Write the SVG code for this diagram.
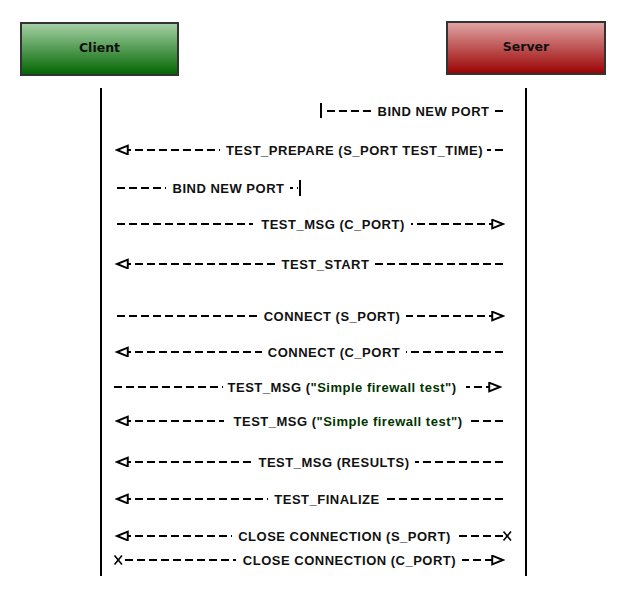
<svg xmlns="http://www.w3.org/2000/svg" width="628" height="602" viewBox="0 0 628 602">
  <style>
    .hdr { font-family: "DejaVu Sans", sans-serif; font-weight: bold; font-size: 12.5px; fill: #111; text-anchor: middle; }
    .lbl { font-family: "Liberation Sans", Arial, sans-serif; font-weight: bold; font-size: 13px; letter-spacing: 0.5px; fill: #111; text-anchor: middle; }
    .grn { fill: #003300; }
    .life { stroke: #000; stroke-width: 2; }
    .msg { stroke: #000; stroke-width: 2; stroke-dasharray: 8 4; fill: none; }
    .bg { fill: #fff; }
    .bar { stroke: #000; stroke-width: 2; }
    .xm { stroke: #000; stroke-width: 1.6; fill: none; }
  </style>
  <defs>
    <linearGradient id="gClient" x1="0" y1="0" x2="0" y2="1">
      <stop offset="0" stop-color="#a6d2a6"/>
      <stop offset="1" stop-color="#006400"/>
    </linearGradient>
    <linearGradient id="gServer" x1="0" y1="0" x2="0" y2="1">
      <stop offset="0" stop-color="#e2a6a6"/>
      <stop offset="1" stop-color="#990000"/>
    </linearGradient>
    <marker id="arr" markerUnits="userSpaceOnUse" markerWidth="14" markerHeight="12" viewBox="-1 -1 13 11" refX="10" refY="4" orient="auto">
      <path d="M0,0 L10,4 L0,8 Z" fill="#fff" stroke="#000" stroke-width="1.8" stroke-linejoin="miter"/>
    </marker>
  </defs>

  <rect width="628" height="602" fill="#fff"/>

  <g id="client">
    <rect x="21" y="23" width="157" height="52" fill="url(#gClient)" stroke="#333" stroke-width="2"/>
    <text class="hdr" x="99.5" y="52">Client</text>
    <line class="life" x1="101" y1="88" x2="101" y2="576"/>
  </g>

  <g id="server">
    <rect x="447" y="22" width="158" height="52" fill="url(#gServer)" stroke="#333" stroke-width="2"/>
    <text class="hdr" x="526" y="51">Server</text>
    <line class="life" x1="526" y1="88" x2="526" y2="576"/>
  </g>

  <g id="connectors">
    <g id="m1">
      <line class="bar" x1="321" y1="103" x2="321" y2="118"/>
      <line class="msg" x1="327" y1="111" x2="505" y2="111"/>
      <rect class="bg" x="372" y="104" width="122" height="14"/>
      <text class="lbl" x="433.5" y="115.5">BIND NEW PORT</text>
    </g>
    <g id="m2">
      <line class="msg" x1="503" y1="150" x2="117" y2="150" marker-end="url(#arr)"/>
      <rect class="bg" x="220" y="143" width="267" height="14"/>
      <text class="lbl" x="354.5" y="154.5">TEST_PREPARE (S_PORT TEST_TIME)</text>
    </g>
    <g id="m3">
      <line class="msg" x1="117" y1="188" x2="298" y2="188"/>
      <line class="bar" x1="300" y1="180" x2="300" y2="196"/>
      <rect class="bg" x="166" y="181" width="124" height="14"/>
      <text class="lbl" x="228.5" y="192.5">BIND NEW PORT</text>
    </g>
    <g id="m4">
      <line class="msg" x1="117" y1="224" x2="503" y2="224" marker-end="url(#arr)"/>
      <rect class="bg" x="253" y="217" width="158" height="14"/>
      <text class="lbl" x="333" y="228.5">TEST_MSG (C_PORT)</text>
    </g>
    <g id="m5">
      <line class="msg" x1="503" y1="264" x2="117" y2="264" marker-end="url(#arr)"/>
      <rect class="bg" x="275" y="257" width="99" height="14"/>
      <text class="lbl" x="325.5" y="268.5">TEST_START</text>
    </g>
    <g id="m6">
      <line class="msg" x1="117" y1="316" x2="503" y2="316" marker-end="url(#arr)"/>
      <rect class="bg" x="258" y="309" width="148" height="14"/>
      <text class="lbl" x="332" y="320.5">CONNECT (S_PORT)</text>
    </g>
    <g id="m7">
      <line class="msg" x1="503" y1="352" x2="117" y2="352" marker-end="url(#arr)"/>
      <rect class="bg" x="262" y="345" width="144" height="14"/>
      <text class="lbl" x="334" y="356.5">CONNECT (C_PORT</text>
    </g>
    <g id="m8">
      <line class="msg" x1="114" y1="387" x2="500" y2="387" marker-end="url(#arr)"/>
      <rect class="bg" x="223" y="380" width="243" height="14"/>
      <text class="lbl" x="342" y="391.5">TEST_MSG (<tspan class="grn">"Simple firewall test"</tspan>)</text>
    </g>
    <g id="m9">
      <line class="msg" x1="503" y1="421" x2="117" y2="421" marker-end="url(#arr)"/>
      <rect class="bg" x="224" y="414" width="247" height="14"/>
      <text class="lbl" x="348" y="425.5">TEST_MSG (<tspan class="grn">"Simple firewall test"</tspan>)</text>
    </g>
    <g id="m10">
      <line class="msg" x1="503" y1="462" x2="117" y2="462" marker-end="url(#arr)"/>
      <rect class="bg" x="252" y="455" width="163" height="14"/>
      <text class="lbl" x="334" y="466.5">TEST_MSG (RESULTS)</text>
    </g>
    <g id="m11">
      <line class="msg" x1="503" y1="499" x2="117" y2="499" marker-end="url(#arr)"/>
      <rect class="bg" x="268" y="492" width="117" height="14"/>
      <text class="lbl" x="327" y="503.5">TEST_FINALIZE</text>
    </g>
    <g id="m12">
      <line class="msg" x1="503" y1="536" x2="117" y2="536" marker-end="url(#arr)"/>
      <path class="xm" d="M503.5,531.5 L511,540.5 M511,531.5 L503.5,540.5"/>
      <rect class="bg" x="232" y="529" width="224" height="14"/>
      <text class="lbl" x="344.5" y="540.5">CLOSE CONNECTION (S_PORT)</text>
    </g>
    <g id="m13">
      <path class="xm" d="M114.5,555.5 L122,564.5 M122,555.5 L114.5,564.5"/>
      <line class="msg" x1="125" y1="560" x2="503" y2="560" marker-end="url(#arr)"/>
      <rect class="bg" x="236" y="553" width="226" height="14"/>
      <text class="lbl" x="349.5" y="564.5">CLOSE CONNECTION (C_PORT)</text>
    </g>
  </g>
</svg>
